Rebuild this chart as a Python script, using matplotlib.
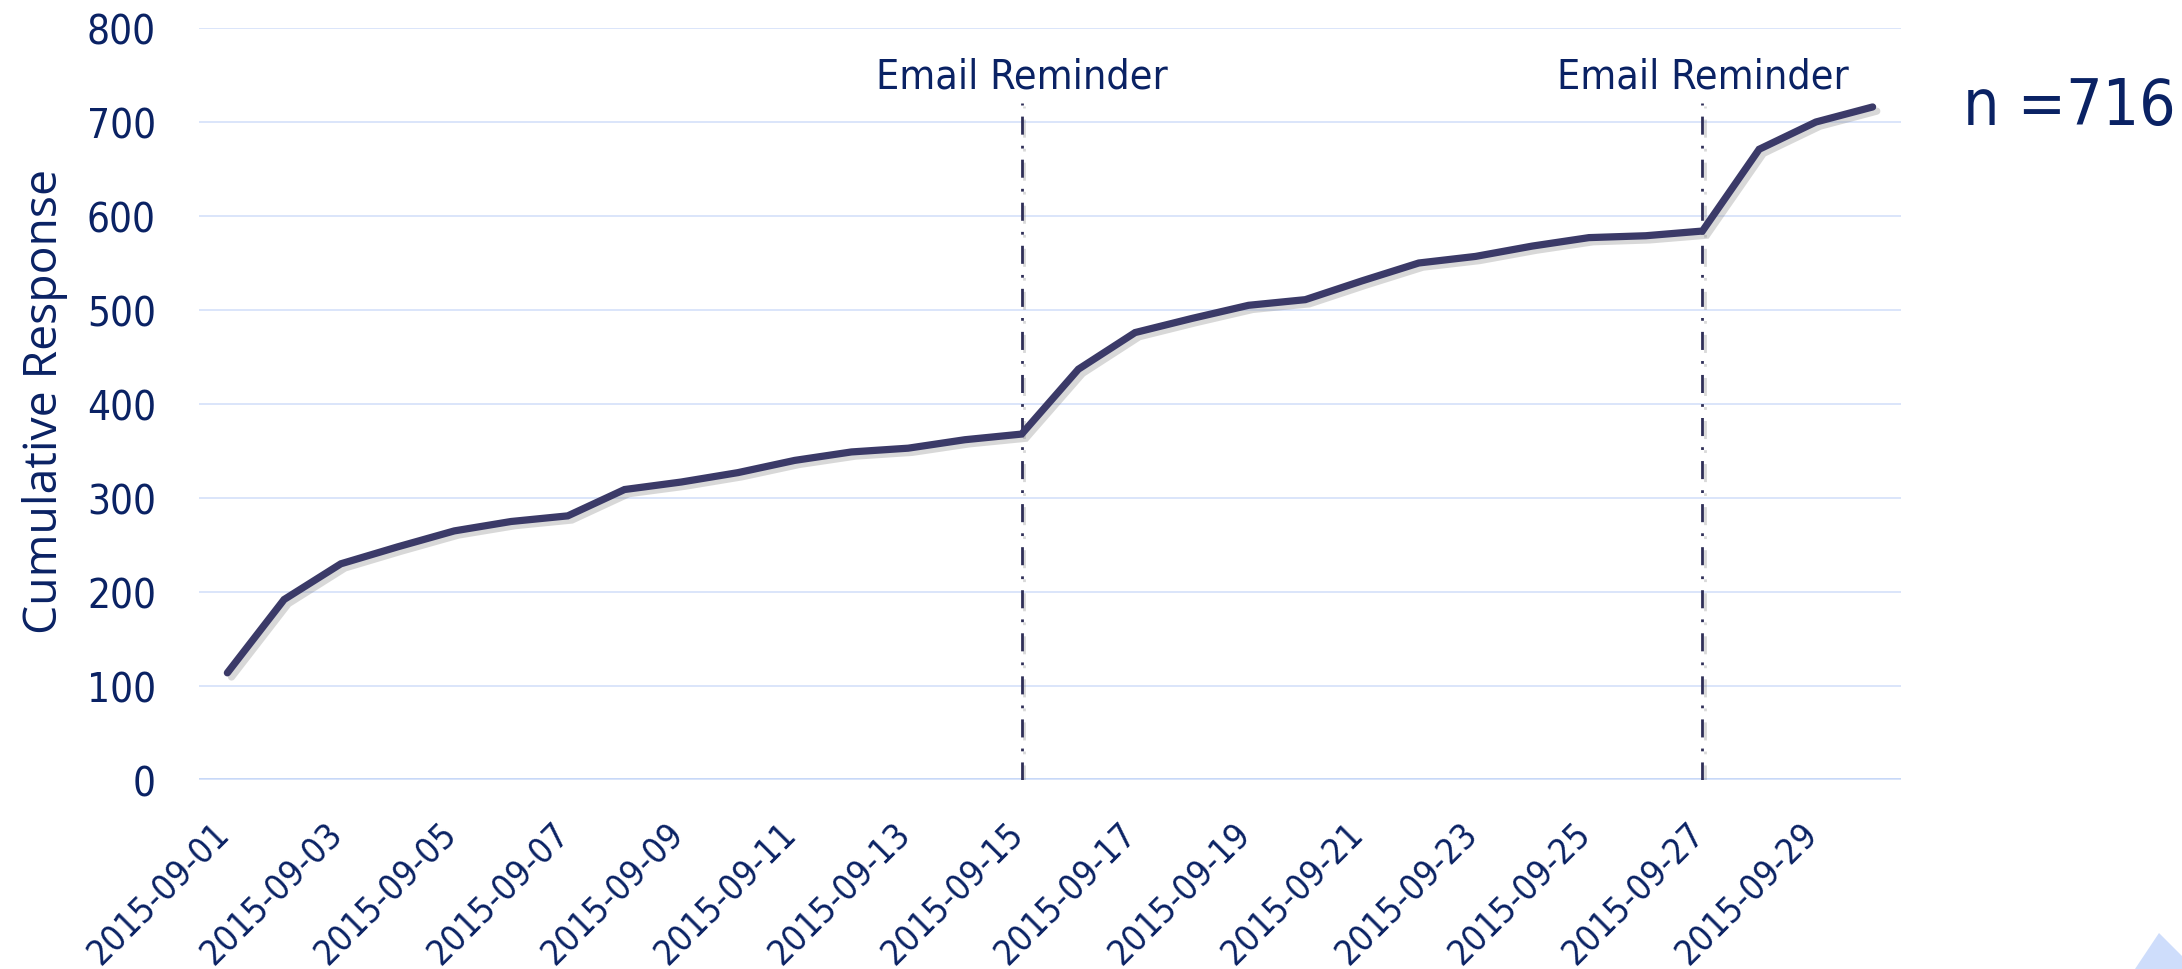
import matplotlib
matplotlib.use('Agg')
import matplotlib.pyplot as plt
import matplotlib.patheffects as pe
from matplotlib.patches import Polygon
from matplotlib.transforms import ScaledTranslation

# Data
dates = ['2015-09-01', '2015-09-02', '2015-09-03', '2015-09-04', '2015-09-05',
         '2015-09-06', '2015-09-07', '2015-09-08', '2015-09-09', '2015-09-10',
         '2015-09-11', '2015-09-12', '2015-09-13', '2015-09-14', '2015-09-15',
         '2015-09-16', '2015-09-17', '2015-09-18', '2015-09-19', '2015-09-20',
         '2015-09-21', '2015-09-22', '2015-09-23', '2015-09-24', '2015-09-25',
         '2015-09-26', '2015-09-27', '2015-09-28', '2015-09-29', '2015-09-30']
cumulative = [114, 192, 230, 248, 265, 275, 281, 309, 317, 327,
              340, 349, 353, 362, 368, 437, 476, 491, 505, 511,
              531, 550, 557, 568, 577, 579, 584, 671, 700, 716]
reminder_dates = ['2015-09-15', '2015-09-27']
reminder_label = 'Email Reminder'
n_label = 'n =716'
y_ticks = [0, 100, 200, 300, 400, 500, 600, 700, 800]

text_color = '#0A2264'
line_color = '#3B3A68'
grid_color = '#DAE5FA'

plt.rcParams['lines.scale_dashes'] = False
plt.rcParams['font.family'] = ['DejaVu Sans']
plt.rcParams['font.stretch'] = 'condensed'

fig = plt.figure(figsize=(21.82, 9.70), dpi=100)
ax = fig.add_axes([199 / 2182, 1 - 781 / 970, 1702 / 2182, 752 / 970])

x = list(range(len(dates)))

# grid and zero line
ax.set_ylim(0, 800)
ax.set_xlim(-0.5, len(dates) - 0.5)
ax.set_yticks(y_ticks)
ax.grid(axis='y', color=grid_color, linewidth=1.4, zorder=0)
ax.axhline(0, color='#C3D6F8', linewidth=3.5, zorder=1)
for s in ax.spines.values():
    s.set_visible(False)

# reminder lines
shadow = [pe.SimpleLineShadow(offset=(2, -2), shadow_color='gray', alpha=0.3), pe.Normal()]
for d in reminder_dates:
    xi = dates.index(d)
    ax.plot([xi, xi], [0, 720], color='#2F2F58', linewidth=2.0,
            linestyle=(0, (13, 8, 2, 8)), zorder=2, path_effects=shadow)
    ax.text(xi, 737, reminder_label, ha='center', va='baseline',
            fontsize=29.5, color=text_color)

# main line
ax.plot(x, cumulative, color=line_color, linewidth=5.2, solid_joinstyle='miter',
        solid_capstyle='round', zorder=3,
        path_effects=[pe.SimpleLineShadow(offset=(3, -3), shadow_color='gray', alpha=0.3),
                      pe.Normal()])

# ticks
ax.set_xticks(x[::2])
ax.set_xticklabels(dates[::2])
ax.tick_params(axis='both', length=0, labelcolor=text_color)
ax.tick_params(axis='y', pad=31, labelsize=29)
ax.tick_params(axis='x', pad=25, labelsize=25.5)
offset = ScaledTranslation(-16 / 100, 0, fig.dpi_scale_trans)
for lab in ax.get_xticklabels():
    lab.set_rotation(45)
    lab.set_ha('right')
    lab.set_va('top')
    lab.set_rotation_mode('anchor')
    lab.set_transform(lab.get_transform() + offset)

ax.set_ylabel('Cumulative Response', fontsize=33.3, color=text_color,
              family='Open Sans', stretch='normal')
ax.yaxis.set_label_coords(-0.077, 0.505)

fig.text(1963 / 2182, 1 - 125 / 970, n_label, fontsize=46, color=text_color,
         ha='left', va='baseline')

# corner decoration
tri = Polygon([(2135 / 2182, 0), (2159 / 2182, 36 / 970), (2195 / 2182, 0)],
              closed=True, transform=fig.transFigure, facecolor='#CEDDFB',
              edgecolor='none')
fig.patches.append(tri)

fig.savefig('out.png', dpi=100, facecolor='white')
